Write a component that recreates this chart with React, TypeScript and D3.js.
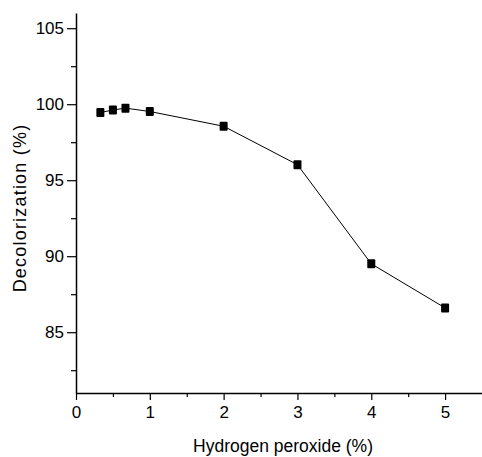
import { useEffect, useRef } from "react";
import * as d3 from "d3";

const W = 482;
const H = 457;
const MARGIN = { top: 13, right: 0, bottom: 64, left: 76 };

// hydrogen peroxide (%) vs decolorization (%)
const peroxide = [0.33, 0.5, 0.67, 1, 2, 3, 4, 5];
const decolorization = [99.45, 99.62, 99.74, 99.52, 98.55, 96.02, 89.5, 86.6];
const xTicks = [0, 1, 2, 3, 4, 5];
const yTicks = [85, 90, 95, 100, 105];

export default function App() {
  const ref = useRef<SVGSVGElement | null>(null);

  useEffect(() => {
    if (!ref.current) return;
    const svg = d3.select(ref.current);
    svg.selectAll("*").remove();

    const x = d3.scaleLinear().domain([0, 5.5]).range([MARGIN.left, W - MARGIN.right]);
    const y = d3.scaleLinear().domain([81, 106]).range([H - MARGIN.bottom, MARGIN.top]);
    const font = "Arial, 'Liberation Sans', sans-serif";

    // minor ticks
    const yMinor = d3.range(82.5, 106, 5);
    const xMinor = d3.range(0.5, 5.5, 1);

    const yAxis = svg
      .append("g")
      .attr("transform", `translate(${MARGIN.left},0)`)
      .call(d3.axisLeft(y).tickValues(yTicks).tickSize(9).tickPadding(3).tickSizeOuter(0));
    yAxis.select(".domain").attr("stroke-width", 1.5);
    yAxis.selectAll(".tick line").attr("stroke-width", 1.2);
    yAxis.selectAll(".tick text").attr("font-size", 17).attr("font-family", font).attr("fill", "#000");
    svg
      .append("g")
      .attr("transform", `translate(${MARGIN.left},0)`)
      .call(d3.axisLeft(y).tickValues(yMinor).tickSize(5).tickFormat(() => "").tickSizeOuter(0))
      .call((g) => g.select(".domain").remove())
      .call((g) => g.selectAll(".tick line").attr("stroke-width", 1.2));

    const xAxis = svg
      .append("g")
      .attr("transform", `translate(0,${H - MARGIN.bottom})`)
      .call(d3.axisBottom(x).tickValues(xTicks).tickSize(7).tickPadding(6).tickFormat(d3.format("d")).tickSizeOuter(0));
    xAxis.select(".domain").attr("stroke-width", 1.5);
    xAxis.selectAll(".tick line").attr("stroke-width", 1.2);
    xAxis.selectAll(".tick text").attr("font-size", 17).attr("font-family", font).attr("fill", "#000");
    svg
      .append("g")
      .attr("transform", `translate(0,${H - MARGIN.bottom})`)
      .call(d3.axisBottom(x).tickValues(xMinor).tickSize(4).tickFormat(() => "").tickSizeOuter(0))
      .call((g) => g.select(".domain").remove())
      .call((g) => g.selectAll(".tick line").attr("stroke-width", 1.2));

    const pts = peroxide.map((p, i) => [p, decolorization[i]] as [number, number]);
    const line = d3
      .line<[number, number]>()
      .x((d) => x(d[0]))
      .y((d) => y(d[1]));
    svg.append("path").attr("d", line(pts)).attr("fill", "none").attr("stroke", "#000").attr("stroke-width", 1);

    svg
      .append("g")
      .selectAll("rect")
      .data(pts)
      .join("rect")
      .attr("x", (d) => x(d[0]) - 4)
      .attr("y", (d) => y(d[1]) - 4.5)
      .attr("width", 8)
      .attr("height", 9)
      .attr("rx", 1)
      .attr("fill", "#000");

    svg
      .append("text")
      .attr("x", 283)
      .attr("y", 452)
      .attr("text-anchor", "middle")
      .attr("font-size", 17.5)
      .attr("font-family", font)
      .text("Hydrogen peroxide (%)");

    svg
      .append("text")
      .attr("transform", `translate(26,208) rotate(-90)`)
      .attr("text-anchor", "middle")
      .attr("font-size", 18)
      .attr("letter-spacing", 1.2)
      .attr("font-family", font)
      .text("Decolorization (%)");
  }, []);

  return (
    <svg
      ref={ref}
      width={W}
      height={H}
      style={{ position: "absolute", left: 0, top: 0, background: "#fff" }}
    />
  );
}
